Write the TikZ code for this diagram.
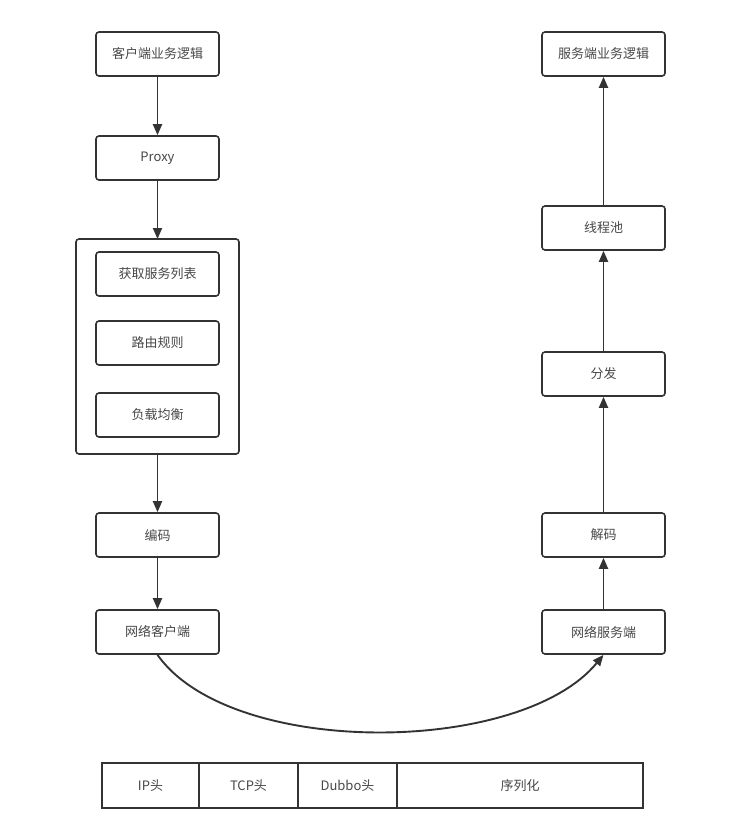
\documentclass[tikz,border=0pt]{standalone}
\usepackage{fontspec}
\setmainfont{Noto Sans CJK SC}
\usetikzlibrary{arrows.meta}
\definecolor{ink}{HTML}{333333}
\begin{document}
\begin{tikzpicture}[x=1pt,y=-1pt,
  box/.style={draw=ink,line width=1.6pt,rounded corners=3pt,minimum width=123pt,minimum height=44pt,inner sep=0pt,font=\fontsize{13}{15}\selectfont,text=ink!90},
  cell/.style={draw=ink,line width=1.6pt,minimum height=45pt,inner sep=0pt,font=\fontsize{13}{15}\selectfont,text=ink!90},
  arr/.style={draw=ink,line width=1.9pt,-{Triangle[length=11pt,width=9pt]}}]
\useasboundingbox (0,0) rectangle (737,824);
\draw[draw=ink,line width=1.6pt,rounded corners=3pt] (76,239) rectangle (239,454);
\node[box] (c1) at (157.5,54) {客户端业务逻辑};
\node[box] (c2) at (157.5,158) {Proxy};
\node[box] (g1) at (157.5,274) {获取服务列表};
\node[box] (g2) at (157.5,343) {路由规则};
\node[box] (g3) at (157.5,415) {负载均衡};
\node[box] (c3) at (157.5,535) {编码};
\node[box] (c4) at (157.5,632) {网络客户端};
\coordinate (gt) at (157.5,239);
\coordinate (gb) at (157.5,454);
\node[box] (s1) at (603.5,54) {服务端业务逻辑};
\node[box] (s2) at (603.5,228) {线程池};
\node[box] (s3) at (603.5,374) {分发};
\node[box] (s4) at (603.5,535) {解码};
\node[box] (s5) at (603.5,632) {网络服务端};
\draw[arr] (c1) -- (c2);
\draw[arr] (c2) -- (gt);
\draw[arr] (gb) -- (c3);
\draw[arr] (c3) -- (c4);
\draw[arr] (s5) -- (s4);
\draw[arr] (s4) -- (s3);
\draw[arr] (s3) -- (s2);
\draw[arr] (s2) -- (s1);
\draw[arr] (c4.south) .. controls (230,758) and (520,756) .. (s5.south);
\node[cell,minimum width=97pt] (t1) at (150.5,785.5) {IP头};
\node[cell,minimum width=99pt] (t2) at (248.5,785.5) {TCP头};
\node[cell,minimum width=99pt] (t3) at (347.5,785.5) {Dubbo头};
\node[cell,minimum width=246pt] (t4) at (520,785.5) {序列化};
\end{tikzpicture}
\end{document}
